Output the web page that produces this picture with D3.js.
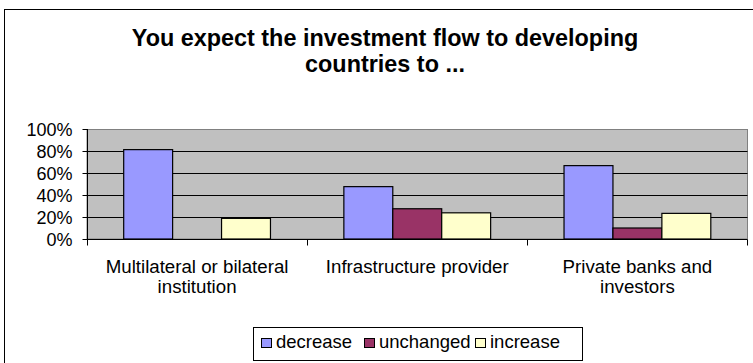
<!DOCTYPE html>
<html>
<head>
<meta charset="utf-8">
<script src="https://cdn.jsdelivr.net/npm/d3@7/dist/d3.min.js"></script>
<style>
  html, body { margin: 0; padding: 0; background: #fff; }
  svg { display: block; }
  text { font-family: Arial, "Liberation Sans", sans-serif; fill: #000; }
</style>
</head>
<body>
<svg id="chart" width="753" height="363"></svg>
<script>
// ---- data ----
const categories = ["Multilateral or bilateral institution", "Infrastructure provider", "Private banks and investors"];
const categoryLines = [["Multilateral or bilateral", "institution"], ["Infrastructure provider"], ["Private banks and", "investors"]];
const seriesNames = ["decrease", "unchanged", "increase"];
const decrease = [81.25, 47.6, 66.7];
const unchanged = [0, 27.5, 10];
const increase = [18.75, 23.8, 23.3];
const yTicks = [0, 20, 40, 60, 80, 100];
const titleLines = ["You expect the investment flow to developing", "countries to ..."];

const seriesValues = [decrease, unchanged, increase];
const colors = ["#9999FF", "#993366", "#FFFFCC"];

const svg = d3.select("#chart");

// outer chart border
svg.append("rect").attr("x", 4.5).attr("y", 9.5).attr("width", 800).attr("height", 400)
  .attr("fill", "#fff").attr("stroke", "#000").attr("stroke-width", 1);

const plot = { left: 87, right: 747.5, top: 129, bottom: 239 };

const x0 = d3.scaleBand().domain(categories).range([plot.left, plot.right]).paddingInner(0).paddingOuter(0);
const groupPad = x0.bandwidth() * 0.75 / 4.5;
const x1 = d3.scaleBand().domain(seriesNames).range([groupPad, x0.bandwidth() - groupPad]);
const y = d3.scaleLinear().domain([0, 100]).range([plot.bottom, plot.top]);

// plot background
svg.append("rect").attr("x", plot.left).attr("y", plot.top + 0.5)
  .attr("width", plot.right - plot.left).attr("height", plot.bottom - plot.top - 0.5)
  .attr("fill", "#C0C0C0").attr("stroke", "#808080").attr("stroke-width", 1);

// gridlines
svg.append("g").selectAll("line").data(yTicks.filter(d => d > 0 && d < 100)).join("line")
  .attr("x1", plot.left).attr("x2", plot.right)
  .attr("y1", d => Math.round(y(d)) + 0.5).attr("y2", d => Math.round(y(d)) + 0.5)
  .attr("stroke", "#000").attr("stroke-width", 1);

// bars
const groups = svg.append("g").selectAll("g").data(categories).join("g")
  .attr("transform", d => `translate(${x0(d)},0)`);
groups.selectAll("rect").data((c, i) => seriesNames.map((s, j) => ({ s, j, v: seriesValues[j][i] })))
  .join("rect")
  .filter(d => d.v > 0)
  .attr("x", d => x1(d.s))
  .attr("y", d => y(d.v))
  .attr("width", x1.bandwidth())
  .attr("height", d => y(0) - y(d.v))
  .attr("fill", d => colors[d.j])
  .attr("stroke", "#000").attr("stroke-width", 1.2);

// y axis
const yAxis = d3.axisLeft(y).tickValues(yTicks).tickFormat(d => d + "%").tickSize(5).tickPadding(10);
const gy = svg.append("g").attr("transform", `translate(${plot.left + 0.5},0)`).call(yAxis);
gy.select(".domain").attr("stroke", "#000").attr("d", `M0,${plot.top}V${plot.bottom}`);
gy.selectAll(".tick line").attr("stroke", "#000");
gy.selectAll(".tick text").style("font-size", "18px").style("font-family", "Arial, 'Liberation Sans', sans-serif").attr("dy", "0.36em");

// x axis
const gx = svg.append("g").attr("transform", `translate(0,${plot.bottom + 0.5})`);
gx.append("line").attr("x1", plot.left).attr("x2", plot.right).attr("stroke", "#000");
const boundaries = categories.map(c => x0(c)).concat([x0(categories[categories.length - 1]) + x0.bandwidth()]);
gx.selectAll("line.tk").data(boundaries).join("line").attr("class", "tk")
  .attr("x1", d => Math.round(d) + 0.5).attr("x2", d => Math.round(d) + 0.5)
  .attr("y1", 0).attr("y2", 6).attr("stroke", "#000");

// category labels
categories.forEach((c, i) => {
  const t = svg.append("text").attr("text-anchor", "middle").style("font-size", "18.7px")
    .attr("x", x0(c) + x0.bandwidth() / 2).attr("y", 273);
  categoryLines[i].forEach((ln, k) => {
    t.append("tspan").attr("x", x0(c) + x0.bandwidth() / 2).attr("dy", k === 0 ? 0 : 19.5).text(ln);
  });
});

// title
titleLines.forEach((ln, k) => {
  svg.append("text").attr("x", 385).attr("y", 46 + k * 26).attr("text-anchor", "middle")
    .style("font-size", "23.4px").style("font-weight", "bold").text(ln);
});

// legend
const legend = svg.append("g");
legend.append("rect").attr("x", 253.5).attr("y", 327.5).attr("width", 329).attr("height", 33)
  .attr("fill", "#fff").attr("stroke", "#000");
const legX = [261, 364, 475];
seriesNames.forEach((s, j) => {
  legend.append("rect").attr("x", legX[j] + 0.5).attr("y", 338.5).attr("width", 10).attr("height", 9)
    .attr("fill", colors[j]).attr("stroke", "#000");
  legend.append("text").attr("x", legX[j] + 15).attr("y", 347.5).style("font-size", "18.5px").text(s);
});
</script>
</body>
</html>
